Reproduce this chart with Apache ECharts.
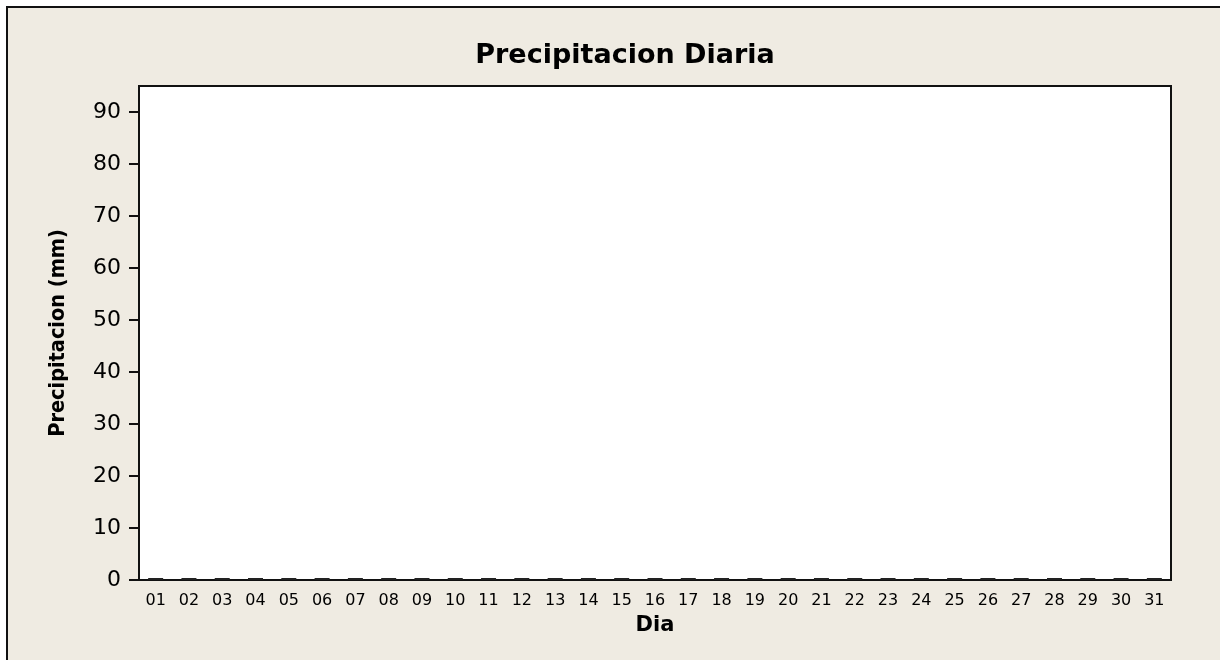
<!DOCTYPE html>
<html>
<head>
<meta charset="utf-8">
<script src="https://cdn.jsdelivr.net/npm/echarts@6/dist/echarts.min.js"></script>
<style>
html,body{margin:0;padding:0;background:#fff;}
#chart{width:1220px;height:660px;}
</style>
</head>
<body>
<div id="chart"></div>
<script>
const titleText = 'Precipitacion Diaria';
const xAxisName = 'Dia';
const yAxisName = 'Precipitacion (mm)';
const days = ['01','02','03','04','05','06','07','08','09','10','11','12','13','14','15','16',
              '17','18','19','20','21','22','23','24','25','26','27','28','29','30','31'];
const precipitation = [0,0,0,0,0,0,0,0,0,0,0,0,0,0,0,0,
                       0,0,0,0,0,0,0,0,0,0,0,0,0,0,0];
const yTicks = [0,10,20,30,40,50,60,70,80,90];
const yMin = 0, yMax = 95;

const chart = echarts.init(document.getElementById('chart'), null, {renderer:'canvas'});
const font = 'DejaVu Sans';
chart.setOption({
  backgroundColor:'#ffffff',
  animation:false,
  graphic:[{
    type:'rect', z:-10, silent:true,
    shape:{x:7,y:7,width:1240,height:680},
    style:{fill:'#EFEBE2',stroke:'#111',lineWidth:2}
  }],
  title:{
    text:titleText, left:620, top:37, textAlign:'center',
    textStyle:{fontFamily:font,fontWeight:'bold',fontSize:27,color:'#000'}
  },
  grid:{
    left:139, top:86, right:49, bottom:80,
    show:true, backgroundColor:'#fff', borderColor:'#111', borderWidth:2
  },
  xAxis:{
    type:'category', data:days, boundaryGap:true,
    name:xAxisName, nameLocation:'middle', nameGap:35,
    nameTextStyle:{fontFamily:font,fontWeight:'bold',fontSize:21,color:'#000'},
    axisLine:{lineStyle:{color:'#111',width:2}},
    axisTick:{alignWithLabel:true,length:6,lineStyle:{color:'#111',width:2}},
    axisLabel:{fontFamily:font,fontSize:16,color:'#000',margin:13,interval:0},
    splitLine:{show:false}
  },
  yAxis:{
    type:'value', min:yMin, max:yMax,
    name:yAxisName, nameLocation:'middle', nameGap:70,
    nameTextStyle:{fontFamily:'DejaVu Sans Condensed',fontWeight:'bold',fontSize:21.5,color:'#000'},
    axisLine:{show:true,lineStyle:{color:'#111',width:2}},
    axisTick:{show:true,length:10,customValues:yTicks,lineStyle:{color:'#111',width:2}},
    axisLabel:{fontFamily:font,fontSize:22,color:'#000',margin:18,customValues:yTicks},
    splitLine:{show:false}
  },
  series:[{
    type:'bar', data:precipitation, barWidth:15, barMinHeight:2,
    itemStyle:{color:'#222'}
  }]
});
</script>
</body>
</html>
